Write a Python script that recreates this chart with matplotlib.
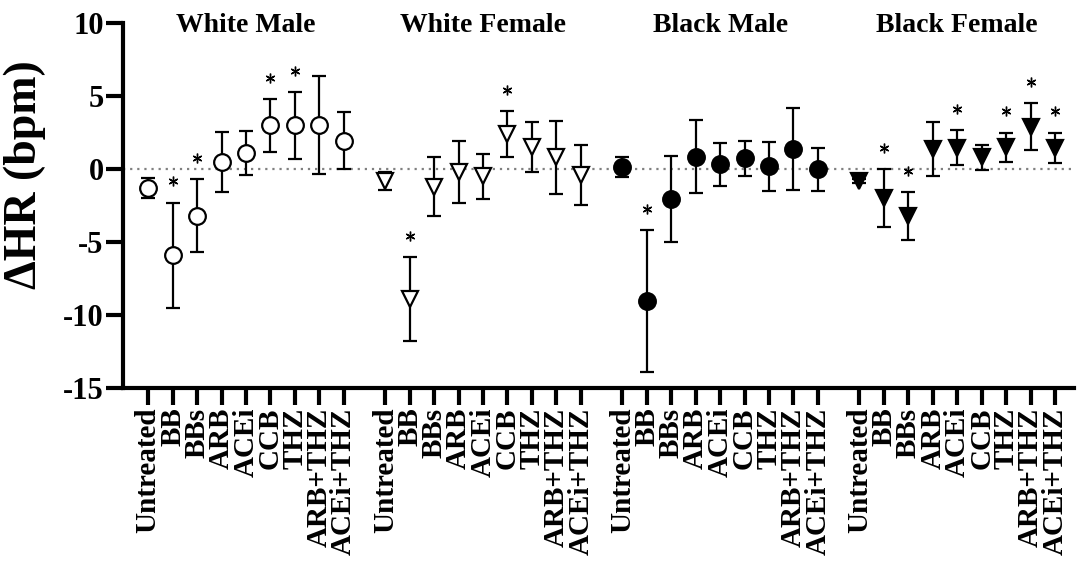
import numpy as np
import matplotlib
matplotlib.use("Agg")
import matplotlib.pyplot as plt

plt.rcParams['font.family'] = ['Liberation Serif', 'DejaVu Serif']
plt.rcParams['font.weight'] = 'bold'

# данные
drugs = ['Untreated', 'BB', 'BBs', 'ARB', 'ACEi', 'CCB', 'THZ', 'ARB+THZ', 'ACEi+THZ']
groups = ['White Male', 'White Female', 'Black Male', 'Black Female']

wm_mean = [-1.3, -5.9, -3.2, 0.5, 1.1, 3.0, 3.0, 3.0, 1.95]
wm_err = [0.7, 3.6, 2.5, 2.05, 1.5, 1.8, 2.3, 3.37, 1.96]
wm_sig = [0, 1, 1, 0, 0, 1, 1, 0, 0]

wf_mean = [-0.8, -8.9, -1.2, -0.2, -0.5, 2.4, 1.5, 0.8, -0.4]
wf_err = [0.6, 2.9, 2.0, 2.1, 1.55, 1.55, 1.7, 2.5, 2.07]
wf_sig = [0, 1, 0, 0, 0, 1, 0, 0, 0]

bm_mean = [0.15, -9.05, -2.05, 0.85, 0.33, 0.73, 0.18, 1.4, 0.0]
bm_err = [0.68, 4.85, 2.95, 2.5, 1.46, 1.2, 1.65, 2.8, 1.47]
bm_sig = [0, 1, 0, 0, 0, 0, 0, 0, 0]

bf_mean = [-0.8, -2.0, -3.2, 1.4, 1.45, 0.8, 1.5, 2.9, 1.45]
bf_err = [0.12, 2.0, 1.65, 1.84, 1.2, 0.85, 1.0, 1.6, 1.05]
bf_sig = [0, 1, 1, 0, 1, 0, 1, 1, 1]

means = [wm_mean, wf_mean, bm_mean, bf_mean]
errs = [wm_err, wf_err, bm_err, bf_err]
sigs = [wm_sig, wf_sig, bm_sig, bf_sig]
markers = ['o', 'v', 'o', 'v']
faces = ['white', 'white', 'black', 'black']

gap = 9.7  # шаг между группами

fig = plt.figure(figsize=(10.84, 5.64), dpi=100)
ax = fig.add_axes([0.1135, 0.312, 0.8773, 0.647])

ticks = []
for g in range(4):
    x = np.arange(len(drugs)) + g * gap
    ticks.extend(x)
    m = np.array(means[g])
    e = np.array(errs[g])
    ax.errorbar(x, m, yerr=e, fmt=markers[g], ms=12, mfc=faces[g], mec='black',
                mew=1.6, ecolor='black', elinewidth=1.6, capsize=5, capthick=1.6,
                zorder=3)
    s = np.array(sigs[g]) == 1
    ax.plot(x[s], m[s] + e[s] + 1.45, marker=(6, 2, 0), ls='none', ms=7,
            mec='black', mew=1.0, zorder=4)
    ax.text(x.mean(), 9.85, groups[g], ha='center', va='center',
            fontsize=20, fontweight='bold', clip_on=False)

ax.axhline(0, color='gray', ls=(0, (1, 2.2)), lw=1.6, zorder=1)

ax.set_xlim(-1.03, 3 * gap + 8 + 0.78)
ax.set_ylim(-15, 10)
ax.set_yticks([-15, -10, -5, 0, 5, 10])
ax.set_yticklabels(['-15', '-10', '-5', '0', '5', '10'])
ax.set_xticks(ticks)
ax.set_xticklabels(drugs * 4, rotation=90)

for side in ['top', 'right']:
    ax.spines[side].set_visible(False)
for side in ['left', 'bottom']:
    ax.spines[side].set_linewidth(3)

ax.tick_params(axis='both', length=12, width=3, pad=2)
ax.tick_params(axis='x', labelsize=21)
ax.tick_params(axis='y', labelsize=22)
for lab in ax.get_xticklabels() + ax.get_yticklabels():
    lab.set_fontweight('bold')

ax.text(-0.103, 0.584, 'ΔHR (bpm)', transform=ax.transAxes, rotation=90,
        ha='center', va='center', fontsize=33, fontweight='bold')

plt.savefig('out.png', dpi=100)
